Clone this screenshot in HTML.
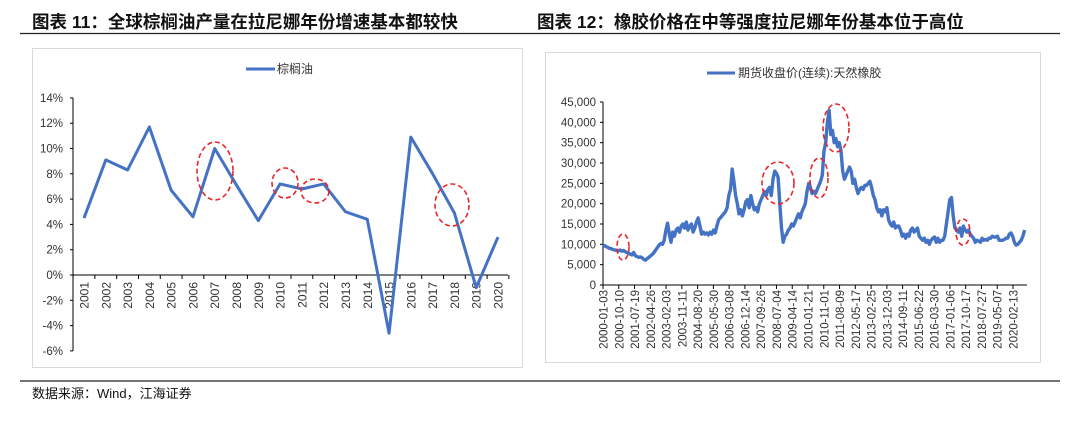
<!DOCTYPE html>
<html><head><meta charset="utf-8"><style>
body{margin:0;background:#fff;width:1080px;height:425px;overflow:hidden;font-family:"Liberation Sans","Noto Sans CJK SC",sans-serif}
svg{display:block}
</style></head><body>
<svg id="s" width="1080" height="425" xmlns="http://www.w3.org/2000/svg" font-family="Liberation Sans, Noto Sans CJK SC, sans-serif">
<text x="32" y="28" font-size="17.5" font-weight="bold" fill="#111">图表 11：全球棕榈油产量在拉尼娜年份增速基本都较快</text>
<text x="537" y="28" font-size="17.5" font-weight="bold" fill="#111">图表 12：橡胶价格在中等强度拉尼娜年份基本位于高位</text>
<line x1="20" y1="33.5" x2="1060" y2="33.5" stroke="#222" stroke-width="1.3"/>
<rect x="32.5" y="48.5" width="490" height="319" fill="#fff" stroke="#d9d9d9"/>
<rect x="545.5" y="52.5" width="495" height="310" fill="#fff" stroke="#d9d9d9"/>
<line x1="20" y1="381" x2="1060" y2="381" stroke="#222" stroke-width="1.3"/>
<text x="32" y="398" font-size="13" fill="#111">数据来源：Wind，江海证券</text>
<g id="left"></g>
<g id="right"></g>
</svg>
<script>
const palmYears=['2001','2002','2003','2004','2005','2006','2007','2008','2009','2010','2011','2012','2013','2014','2015','2016','2017','2018','2019','2020'];
const palmGrowth=[4.5,9.1,8.3,11.7,6.7,4.6,10.0,7.1,4.3,7.2,6.8,7.2,5.0,4.4,-4.6,10.9,8.0,4.9,-1.0,3.0];
const palmTicks=[14,12,10,8,6,4,2,0,-2,-4,-6];
const rubberStartYear=2000;
const rubberPrice=[
9600,9700,9400,9200,9000,8900,8700,8600,8500,8400,8600,8300,
8500,8200,8000,7800,7600,7400,8000,7200,7000,6800,6900,6700,
6300,6100,6500,6800,7200,7500,8000,8600,9200,9800,10200,10000,
11000,13500,15200,12500,10500,13000,12000,13500,14000,13000,14500,15000,
14000,15500,13500,14500,15000,13000,14000,15500,16500,14500,12500,13000,
12500,12800,12300,13000,12500,13500,12800,14500,16000,16500,17000,17500,
18000,19000,22000,23500,28500,25500,22000,20000,17500,18500,17000,18500,
20500,21000,19000,22000,20000,18500,19000,18000,20000,21000,22000,23000,
22000,23500,24000,22000,26000,28000,27500,26500,20000,14000,10500,12000,
12500,13500,14000,15000,14500,15500,16500,17500,16500,18000,19000,20000,
23000,25000,24000,22500,23000,22500,23500,24500,25500,27000,33000,35000,
40000,43000,37000,38000,35000,36000,34000,35000,33000,28000,26000,27000,
28000,29000,28000,25000,26000,24000,22500,23500,24000,23500,24500,24500,
25000,25500,24000,22000,21000,19000,18000,18500,17000,18500,18000,19000,
16000,15000,14500,15500,14000,14500,14500,13500,12000,12500,11500,12500,
12000,13500,14000,13000,13500,14000,12000,11500,11000,11500,10500,11000,
10000,11000,11500,11800,10500,11500,10500,11000,11000,12000,15000,18000,
21000,21500,17000,14000,13500,13000,14000,12000,14500,13500,13000,13500,
12500,12000,11500,10500,11000,10800,10500,11500,11000,11200,11000,11500,
11500,12000,11800,11800,12000,11000,11000,11000,11200,11500,11500,12500,
12800,12000,10500,9800,10000,10500,11000,12000,13500];
const rubberTicks=[0,5000,10000,15000,20000,25000,30000,35000,40000,45000];
const rubberDateLabels=['2000-01-03','2000-10-10','2001-07-19','2002-04-26','2003-02-03','2003-11-11','2004-08-20','2005-05-30','2006-03-08','2006-12-14','2007-09-26','2008-07-04','2009-04-14','2010-01-21','2010-11-01','2011-08-09','2012-05-17','2013-02-25','2013-12-03','2014-09-11','2015-06-22','2016-03-30','2017-01-06','2017-10-17','2018-07-27','2019-05-07','2020-02-13'];

const NS='http://www.w3.org/2000/svg';
function mk(p,tag,at){const e=document.createElementNS(NS,tag);for(const k in at)e.setAttribute(k,at[k]);p.appendChild(e);return e;}
const BLUE='#4472c4';

// LEFT
const L=document.getElementById('left');
const ly=v=>275-(v)*(253/20);
const lx=i=>84+i*(414/19);
let e=mk(L,'line',{x1:73,y1:ly(14),x2:73,y2:ly(-6),stroke:'#000'});

palmTicks.forEach(t=>{
 let tk=mk(L,'line',{x1:70,y1:ly(t),x2:73,y2:ly(t),stroke:'#000'});
 
 let tx=mk(L,'text',{x:63,y:ly(t)+4,'font-size':11.5,'text-anchor':'end',fill:'#333'});
 tx.textContent=t+'%';
 
});
e=mk(L,'line',{x1:73,y1:ly(0),x2:508,y2:ly(0),stroke:'#000'});

for(let i=0;i<=palmYears.length;i++){
 let tk=mk(L,'line',{x1:lx(i)-10.9,y1:ly(0),x2:lx(i)-10.9,y2:ly(0)+4,stroke:'#000'});
 
}
palmYears.forEach((y,i)=>{
 let tx=mk(L,'text',{x:0,y:0,'font-size':12,'text-anchor':'end',fill:'#333',transform:`translate(${lx(i)+4.5},${ly(0)+7}) rotate(-90)`});
 tx.textContent=y;
 
});
e=mk(L,'polyline',{points:palmGrowth.map((v,i)=>lx(i)+','+ly(v)).join(' '),fill:'none',stroke:BLUE,'stroke-width':3,'stroke-linejoin':'round'});

e=mk(L,'line',{x1:246,y1:69,x2:275,y2:69,stroke:BLUE,'stroke-width':3});

e=mk(L,'text',{x:277,y:73,'font-size':12,fill:'#333'});e.textContent='棕榈油';

[[215,171,18,29],[285,183,13,15],[315,191,14,12],[452,205,17,21]].forEach(c=>{
 let el=mk(L,'ellipse',{cx:c[0],cy:c[1],rx:c[2],ry:c[3],fill:'none',stroke:'#e8262a','stroke-width':1.6,'stroke-dasharray':'5,3'});
 
});

// RIGHT
const R=document.getElementById('right');
const ry=v=>285-v*(183/45000);
const rxm=m=>603+m*(20.4/12);
e=mk(R,'line',{x1:603,y1:ry(45000),x2:603,y2:ry(0),stroke:'#000'});

rubberTicks.forEach(t=>{
 let tk=mk(R,'line',{x1:600,y1:ry(t),x2:603,y2:ry(t),stroke:'#000'});
 
 let tx=mk(R,'text',{x:596,y:ry(t)+4,'font-size':11.5,'text-anchor':'end',fill:'#333'});
 tx.textContent=t.toLocaleString('en-US');
 
});
e=mk(R,'line',{x1:603,y1:ry(0),x2:1027,y2:ry(0),stroke:'#000'});

const step=(1013-603)/(rubberDateLabels.length-1);
rubberDateLabels.forEach((d,i)=>{
 const x=603+i*step;
 let tk=mk(R,'line',{x1:x,y1:ry(0),x2:x,y2:ry(0)+4,stroke:'#000'});
 
 let tx=mk(R,'text',{x:0,y:0,'font-size':11.5,'text-anchor':'end',fill:'#333',transform:`translate(${x+4.5},${ry(0)+5}) rotate(-90)`});
 tx.textContent=d;
 
});
e=mk(R,'polyline',{points:rubberPrice.map((v,i)=>rxm(i)+','+ry(v)).join(' '),fill:'none',stroke:BLUE,'stroke-width':3.4,'stroke-linejoin':'round'});

e=mk(R,'line',{x1:707,y1:73,x2:735,y2:73,stroke:BLUE,'stroke-width':3});

e=mk(R,'text',{x:738,y:77,'font-size':12,fill:'#333'});e.textContent='期货收盘价(连续):天然橡胶';

[[623,247,6,13],[778,183,16,21],[819,178,9,20],[836,128,13,24],[963,232,7,13]].forEach(c=>{
 let el=mk(R,'ellipse',{cx:c[0],cy:c[1],rx:c[2],ry:c[3],fill:'none',stroke:'#e8262a','stroke-width':1.6,'stroke-dasharray':'5,3'});
 
});
</script>
</body></html>
